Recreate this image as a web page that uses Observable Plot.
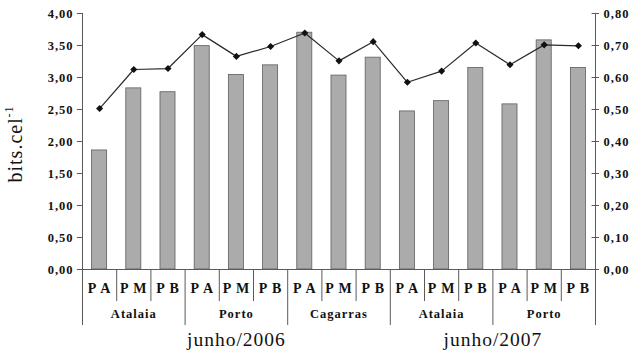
<!DOCTYPE html>
<html>
<head>
<meta charset="utf-8">
<script src="https://cdn.jsdelivr.net/npm/d3@7"></script>
<script src="https://cdn.jsdelivr.net/npm/@observablehq/plot@0.6"></script>
<style>
  html, body { margin: 0; padding: 0; background: #fff; }
  svg { display: block; }
</style>
</head>
<body>
<div id="chart"></div>
<script>
// ---- data ----
const sites = ["Atalaia", "Porto", "Cagarras", "Atalaia", "Porto"];
const years = ["junho/2006", "junho/2007"];
const sitesPerYear = [3, 2];
const strata = ["P A", "P M", "P B"];
const bits = [1.86, 2.83, 2.77, 3.49, 3.04, 3.19, 3.70, 3.03, 3.31, 2.47, 2.63, 3.15, 2.58, 3.58, 3.15];
const ratio = [0.503, 0.625, 0.628, 0.734, 0.666, 0.697, 0.739, 0.652, 0.712, 0.585, 0.620, 0.708, 0.640, 0.702, 0.699];
const leftTicks = [0, 0.5, 1, 1.5, 2, 2.5, 3, 3.5, 4];
const rightTicks = [0, 0.1, 0.2, 0.3, 0.4, 0.5, 0.6, 0.7, 0.8];
const yLabel = "bits.cel";
const yLabelSup = "-1";

// ---- derived tables ----
const k = 4 / 0.8; // right axis -> left axis factor
const n = bits.length;
const rows = bits.map((b, i) => ({i, bits: b, ratio: ratio[i], stratum: strata[i % 3]}));
const siteRows = sites.map((s, j) => ({x: j * 3 + 1.5, s}));
let acc = 0;
const yearRows = years.map((y, j) => {
  const start = acc * 3; acc += sitesPerYear[j];
  return {x: (start + acc * 3) / 2, y};
});
const groupSeps = d3.range(0, n + 1, 3);
const stratSeps = d3.range(1, n).filter(i => i % 3 !== 0);
const fmt = d => d.toFixed(2).replace(".", ",");
const axisColor = "#5a5a5a";
const textColor = "#111";
const serif = "'Liberation Serif', 'Times New Roman', serif";
const rightY = rightTicks.map(t => ({v: t, y: t * k}));

const chart = Plot.plot({
  width: 632,
  height: 350,
  marginLeft: 82,
  marginRight: 37,
  marginTop: 13,
  marginBottom: 81,
  style: {fontFamily: serif, letterSpacing: "1px", background: "#fff"},
  x: {type: "linear", domain: [0, n], axis: null},
  y: {domain: [0, 4], axis: null},
  marks: [
    Plot.rectY(rows, {x1: d => d.i + 0.28, x2: d => d.i + 0.72, y: "bits", fill: "#ababab", stroke: "#5e5e5e", strokeWidth: 0.8}),
    Plot.ruleY([0], {x1: -0.11, x2: n, stroke: axisColor}),
    Plot.ruleX(groupSeps, {y1: -0.875, y2: d => (d === 0 || d === n) ? 4 : 0, stroke: axisColor}),
    Plot.ruleX(stratSeps, {y1: -0.5, y2: 0, stroke: axisColor}),
    // left axis ticks + labels
    Plot.ruleY(leftTicks, {x1: -0.15, x2: 0, stroke: axisColor}),
    Plot.text(leftTicks, {x: 0, y: d => d, dx: -9, textAnchor: "end", text: fmt, fontWeight: "bold", fontSize: 12.5, fill: textColor}),
    // right axis ticks + labels
    Plot.ruleY(rightY, {y: "y", x1: n - 0.1, x2: n + 0.12, stroke: axisColor}),
    Plot.text(rightY, {x: n, y: "y", dx: 8, textAnchor: "start", text: d => fmt(d.v), fontWeight: "bold", fontSize: 12.5, fill: textColor}),
    Plot.line(rows, {x: d => d.i + 0.5, y: d => d.ratio * k, stroke: "#2a2a2a", strokeWidth: 1.2}),
    Plot.dot(rows, {x: d => d.i + 0.5, y: d => d.ratio * k, symbol: "diamond2", r: 3.2, fill: "#111", stroke: "none"}),
    Plot.text(rows, {x: d => d.i + 0.5, y: () => -0.3, text: "stratum", fontWeight: "bold", fontSize: 14, fill: textColor}),
    Plot.text(siteRows, {x: "x", y: () => -0.69, text: "s", fontWeight: "bold", fontSize: 12.5, fill: textColor}),
    Plot.text(yearRows, {x: "x", y: () => -1.09, text: "y", fontSize: 19.5, fill: textColor}),
    Plot.text([yLabel], {frameAnchor: "left", dx: -67, dy: 41, rotate: -90, textAnchor: "start", text: d => d, fontSize: 20, fill: textColor}),
    Plot.text([yLabelSup], {frameAnchor: "left", dx: -73, dy: -24, rotate: -90, textAnchor: "start", text: d => d, fontSize: 12, fill: textColor})
  ]
});
document.getElementById("chart").appendChild(chart);
</script>
</body>
</html>
